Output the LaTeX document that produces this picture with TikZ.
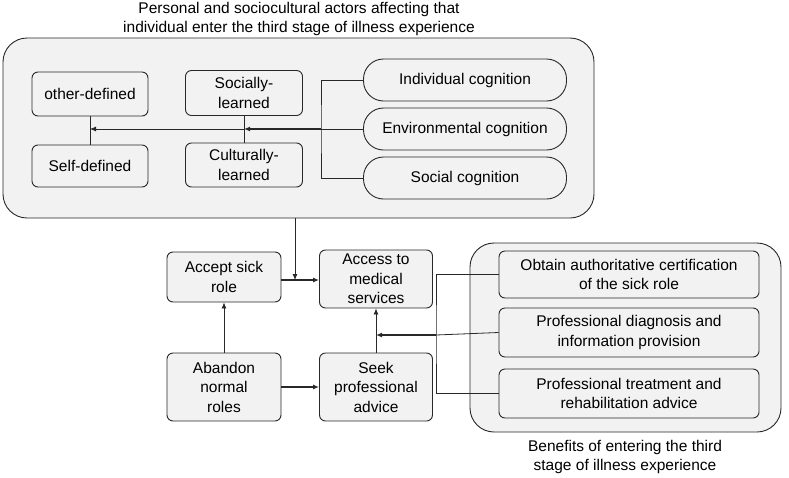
\documentclass[tikz,border=0pt]{standalone}
\usepackage{fontspec}
\setmainfont{Liberation Sans}
\usetikzlibrary{arrows.meta,positioning}

\definecolor{panelgray}{RGB}{242,242,242}
\definecolor{linegray}{RGB}{40,40,40}

\begin{document}
\begin{tikzpicture}[
    x=1pt, y=-1pt,
    font=\fontsize{15.5}{19.5}\selectfont,
    panel/.style={rectangle,draw=linegray,fill=panelgray,line width=0.9pt,rounded corners=24pt},
    item/.style={rectangle,draw=linegray,fill=panelgray,line width=0.9pt,rounded corners=6pt,align=center,inner sep=2pt},
    pill/.style={item,rounded corners=20pt,minimum width=203pt,minimum height=42pt},
    link/.style={draw=linegray,line width=0.8pt},
    arrow/.style={link,-{Latex[length=6pt,width=5pt]}},
    bold arrow/.style={arrow,line width=2.2pt,-{Latex[length=6pt,width=5pt]}}
]
\useasboundingbox (0,0) rectangle (789,477);

% Panel superior: factores
\node[panel,minimum width=591pt,minimum height=180pt] (factors) at (298.5,128) {};
\node[align=center] (title) at (299,19) {Personal and sociocultural actors affecting that\\individual enter the third stage of illness experience};

% Definiciones
\node[item,minimum width=116pt,minimum height=44pt] (other) at (90,94) {other-defined};
\node[item,minimum width=116pt,minimum height=42pt] (self) at (90,166) {Self-defined};

% Aprendizaje
\node[item,minimum width=117pt,minimum height=45pt] (social learned) at (244,93) {Socially-\\learned};
\node[item,minimum width=117pt,minimum height=44pt] (cultural) at (244,165) {Culturally-\\learned};

% Cogniciones
\node[pill] (indiv) at (465,80) {Individual cognition};
\node[pill] (env) at (465,129) {Environmental cognition};
\node[pill] (socialcog) at (465,178) {Social cognition};

% Conexiones del panel superior
\coordinate (tb) at (321,129);
\coordinate (sl) at (social learned.south |- tb);
\coordinate (od) at (other.south |- tb);
\draw[link] (indiv.west) -| (tb) |- (socialcog.west);
\draw[link] (env.west) -- (tb);
\draw[link] (social learned.south) -- (cultural.north);
\draw[link] (other.south) -- (self.north);
\draw[bold arrow] (tb) -- (sl);
\draw[arrow] (sl) -- (od);

% Etapas
\node[item,minimum width=114pt,minimum height=50pt] (accept) at (224,277) {Accept sick\\role};
\node[item,minimum width=113pt,minimum height=58pt] (access) at (376,279) {Access to\\medical\\services};
\node[item,minimum width=114pt,minimum height=68pt] (abandon) at (224,387) {Abandon\\normal\\roles};
\node[item,minimum width=113pt,minimum height=68pt] (seek) at (376,387) {Seek\\professional\\advice};

% Panel derecho: beneficios
\node[panel,minimum width=311pt,minimum height=189pt] (benefits) at (625.5,337.5) {};
\node[item,minimum width=260pt,minimum height=47pt] (obtain) at (629,274.5) {Obtain authoritative certification\\of the sick role};
\node[item,minimum width=260pt,minimum height=49pt] (diagnosis) at (629,332.5) {Professional diagnosis and\\information provision};
\node[item,minimum width=260pt,minimum height=49pt] (treatment) at (629,393.5) {Professional treatment and\\rehabilitation advice};
\node[align=center] (caption) at (625,457) {Benefits of entering the third\\stage of illness experience};

% Conexiones principales
\coordinate (jd) at (295,280);
\draw[bold arrow] (accept.east |- jd) -- (access.west |- jd);
\draw[arrow] (factors.south -| jd) -- (jd);
\draw[arrow] (abandon) -- (accept);
\draw[bold arrow] (abandon) -- (seek);
\draw[arrow] (seek) -- (access);

% Conexiones del panel derecho
\coordinate (rb) at (436,335);
\draw[link] (obtain.west) -| (rb) |- (treatment.west);
\draw[link] (diagnosis.west) -- (rb);
\draw[bold arrow] (rb) -- (seek.north |- rb);

\end{tikzpicture}
\end{document}
